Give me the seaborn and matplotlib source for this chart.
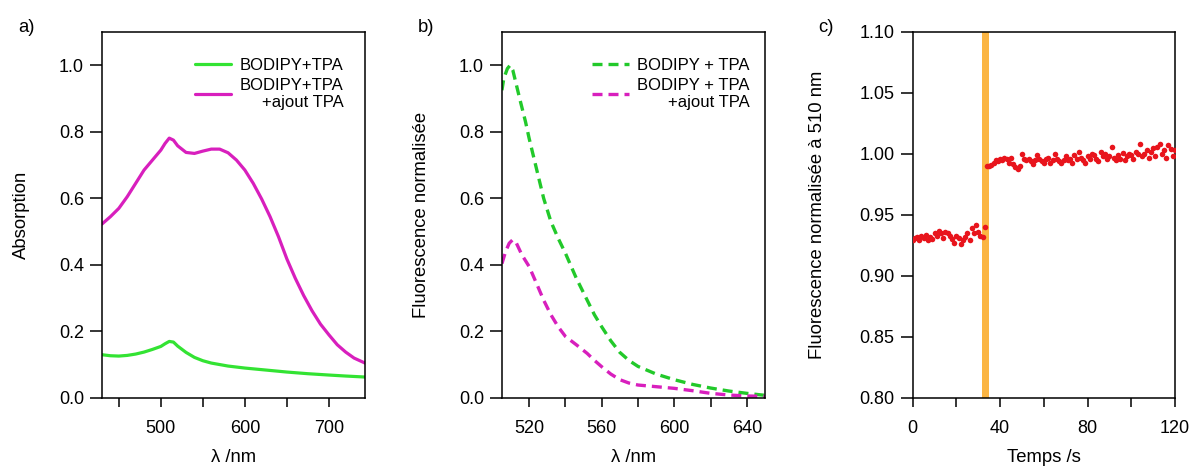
import matplotlib
matplotlib.use("Agg")
import matplotlib.pyplot as plt
from matplotlib.ticker import MultipleLocator, FormatStrFormatter
import seaborn as sns
import pandas as pd
import numpy as np

# a) absorption spectra
abs_wl_tpa = [430, 440, 450, 460, 470, 480, 490, 500, 505, 510, 515, 520, 530, 540, 550, 560,
              580, 600, 625, 650, 675, 700, 720, 743]
abs_tpa = [0.130, 0.127, 0.126, 0.128, 0.132, 0.138, 0.146, 0.155, 0.163, 0.170, 0.168, 0.156,
           0.137, 0.122, 0.112, 0.105, 0.096, 0.090, 0.084, 0.078, 0.073, 0.069, 0.066, 0.063]
abs_wl_ajout = [430, 440, 450, 460, 470, 480, 490, 500, 505, 510, 515, 520, 530, 540, 550, 560,
                570, 580, 590, 600, 610, 620, 630, 640, 650, 660, 670, 680, 690, 700, 710, 720,
                730, 743]
abs_ajout = [0.523, 0.545, 0.570, 0.605, 0.645, 0.685, 0.715, 0.745, 0.765, 0.781, 0.775, 0.758,
             0.738, 0.735, 0.742, 0.748, 0.748, 0.737, 0.715, 0.685, 0.645, 0.598, 0.545, 0.485,
             0.418, 0.360, 0.308, 0.262, 0.222, 0.190, 0.160, 0.138, 0.120, 0.105]

# b) normalised fluorescence
fl_wl_tpa = [505, 506, 508, 509.5, 511, 513, 515, 518, 520, 524, 528, 532, 536, 540, 546, 552,
             556, 560, 565, 570, 575, 580, 590, 600, 610, 620, 630, 640, 650]
fl_tpa = [0.925, 0.960, 0.990, 1.000, 0.985, 0.940, 0.895, 0.830, 0.780, 0.690, 0.600, 0.530,
          0.480, 0.435, 0.360, 0.294, 0.250, 0.214, 0.172, 0.137, 0.113, 0.095, 0.072, 0.055,
          0.041, 0.030, 0.021, 0.014, 0.008]
fl_wl_ajout = [505, 507, 509, 511, 513, 516, 520, 524, 528, 532, 536, 540, 546, 552, 556, 560,
               565, 570, 575, 580, 590, 600, 610, 620, 630, 640, 650]
fl_ajout = [0.404, 0.440, 0.465, 0.476, 0.465, 0.430, 0.395, 0.345, 0.294, 0.250, 0.214, 0.185,
            0.160, 0.134, 0.113, 0.094, 0.072, 0.055, 0.045, 0.039, 0.034, 0.029, 0.022, 0.014,
            0.009, 0.006, 0.005]

# c) fluorescence at 510 nm vs time (one point per second)
t_before = np.arange(0, 34)
fl510_before = [0.9295, 0.931, 0.932, 0.9295, 0.933, 0.931, 0.934, 0.9295, 0.932, 0.930,
                0.935, 0.933, 0.937, 0.935, 0.931, 0.936, 0.935, 0.933, 0.930, 0.927,
                0.933, 0.931, 0.926, 0.9295, 0.932, 0.935, 0.9295, 0.939, 0.935, 0.942,
                0.936, 0.933, 0.932, 0.940]
t_after = np.arange(34, 121)
fl510_after = [0.990, 0.990, 0.991, 0.993, 0.995, 0.994, 0.996, 0.995, 0.997, 0.996,
               0.993, 0.997, 0.992, 0.989, 0.988, 0.990, 1.000, 0.996, 0.995, 0.996,
               0.994, 0.992, 0.995, 0.999, 0.996, 0.994, 0.993, 0.996, 0.997, 0.993,
               0.995, 1.000, 0.996, 0.994, 0.993, 0.995, 0.998, 0.995, 0.996, 0.993,
               0.999, 0.996, 1.002, 0.997, 0.995, 0.993, 0.998, 0.996, 1.000, 0.999,
               0.996, 0.994, 1.002, 0.998, 1.000, 0.996, 0.998, 1.006, 0.997, 0.995,
               0.999, 0.996, 1.001, 0.995, 0.998, 1.000, 0.999, 0.996, 1.002, 1.000,
               1.008, 0.998, 1.000, 1.003, 0.997, 1.002, 1.005, 0.998, 1.006, 1.008,
               1.000, 1.003, 0.997, 1.007, 1.004, 0.998, 1.003]
inject_start, inject_end = 31.7, 35.0

GREEN = "#33e333"
GREEN_D = "#22c92a"
MAGENTA = "#d81fbd"
RED = "#e8141c"
ORANGE = "#fbb543"

FS_TICK = 13
FS_LABEL = 13.3
FS_LEG = 12

sns.set_theme(style="ticks")
plt.rcParams["font.family"] = ["Liberation Sans", "DejaVu Sans"]
plt.rcParams["text.color"] = "black"
plt.rcParams["axes.labelcolor"] = "black"
plt.rcParams["axes.linewidth"] = 1.1

fig = plt.figure(figsize=(11.92, 4.69), dpi=100)
ax_a = fig.add_axes([0.0856, 0.1514, 0.2206, 0.7804])
ax_b = fig.add_axes([0.4211, 0.1514, 0.2206, 0.7804])
ax_c = fig.add_axes([0.7657, 0.1514, 0.2200, 0.7804])

# panel a
da1 = pd.DataFrame({"wl": abs_wl_tpa, "A": abs_tpa})
da2 = pd.DataFrame({"wl": abs_wl_ajout, "A": abs_ajout})
sns.lineplot(data=da1, x="wl", y="A", ax=ax_a, color=GREEN, lw=2.3, label="BODIPY+TPA")
sns.lineplot(data=da2, x="wl", y="A", ax=ax_a, color=MAGENTA, lw=2.3,
             label="BODIPY+TPA\n+ajout TPA")
ax_a.set_xlim(430, 743)
ax_a.set_ylim(0, 1.1)
ax_a.xaxis.set_major_locator(MultipleLocator(100))
ax_a.xaxis.set_minor_locator(MultipleLocator(50))
ax_a.yaxis.set_major_locator(MultipleLocator(0.2))
ax_a.yaxis.set_major_formatter(FormatStrFormatter("%.1f"))
ax_a.set_xlabel("λ /nm")
ax_a.set_ylabel("Absorption")

# panel b
db1 = pd.DataFrame({"wl": fl_wl_tpa, "F": fl_tpa})
db2 = pd.DataFrame({"wl": fl_wl_ajout, "F": fl_ajout})
dash = (0, (3.0, 1.8))
sns.lineplot(data=db1, x="wl", y="F", ax=ax_b, color=GREEN_D, lw=2.4, linestyle=dash,
             label="BODIPY + TPA")
sns.lineplot(data=db2, x="wl", y="F", ax=ax_b, color=MAGENTA, lw=2.4, linestyle=dash,
             label="BODIPY + TPA\n+ajout TPA")
ax_b.set_xlim(505, 650)
ax_b.set_ylim(0, 1.1)
ax_b.xaxis.set_major_locator(MultipleLocator(40))
ax_b.xaxis.set_minor_locator(MultipleLocator(20))
ax_b.set_xticks([520, 560, 600, 640])
ax_b.yaxis.set_major_locator(MultipleLocator(0.2))
ax_b.yaxis.set_major_formatter(FormatStrFormatter("%.1f"))
ax_b.set_xlabel("λ /nm")
ax_b.set_ylabel("Fluorescence normalisée")

# panel c
ax_c.axvspan(inject_start, inject_end, color=ORANGE, lw=0, zorder=0)
dc = pd.DataFrame({"t": np.concatenate([t_before, t_after]),
                   "F": fl510_before + fl510_after})
sns.scatterplot(data=dc, x="t", y="F", ax=ax_c, color=RED, s=16, linewidth=0, zorder=3)
ax_c.set_xlim(0, 120)
ax_c.set_ylim(0.8, 1.1)
ax_c.xaxis.set_major_locator(MultipleLocator(40))
ax_c.xaxis.set_minor_locator(MultipleLocator(20))
ax_c.yaxis.set_major_locator(MultipleLocator(0.05))
ax_c.yaxis.set_major_formatter(FormatStrFormatter("%.2f"))
ax_c.set_xlabel("Temps /s")
ax_c.set_ylabel("Fluorescence normalisée à 510 nm")

for ax in (ax_a, ax_b, ax_c):
    for sp in ax.spines.values():
        sp.set_visible(True)
        sp.set_color("black")
        sp.set_linewidth(1.1)
    ax.tick_params(axis="y", which="major", direction="out", length=9, width=1.1,
                   pad=4, labelsize=FS_TICK, colors="black")
    ax.tick_params(axis="x", which="both", direction="out", length=6.5, width=1.1,
                   pad=9, labelsize=FS_TICK, colors="black")
    ax.tick_params(top=False, right=False)
    ax.xaxis.label.set_size(FS_LABEL)
    ax.yaxis.label.set_size(FS_LABEL)
    ax.xaxis.labelpad = 9

for ax, anchor in ((ax_a, (0.975, 0.97)), (ax_b, (1.0, 0.97))):
    leg = ax.legend(loc="upper right", frameon=False, fontsize=FS_LEG, handlelength=2.2,
                    handletextpad=0.5, labelspacing=0.3, borderaxespad=0.5,
                    bbox_to_anchor=anchor)
    for txt in leg.get_texts():
        txt.set_multialignment("right")

ax_a.yaxis.set_label_coords(-0.275, 0.5)
ax_b.yaxis.set_label_coords(-0.275, 0.5)
ax_c.yaxis.set_label_coords(-0.33, 0.5)

fig.text(18 / 1192, 1 - 28 / 469, "a)", fontsize=FS_LABEL, va="center")
fig.text(418 / 1192, 1 - 28 / 469, "b)", fontsize=FS_LABEL, va="center")
fig.text(818 / 1192, 1 - 28 / 469, "c)", fontsize=FS_LABEL, va="center")

fig.savefig("out.png", dpi=100)
